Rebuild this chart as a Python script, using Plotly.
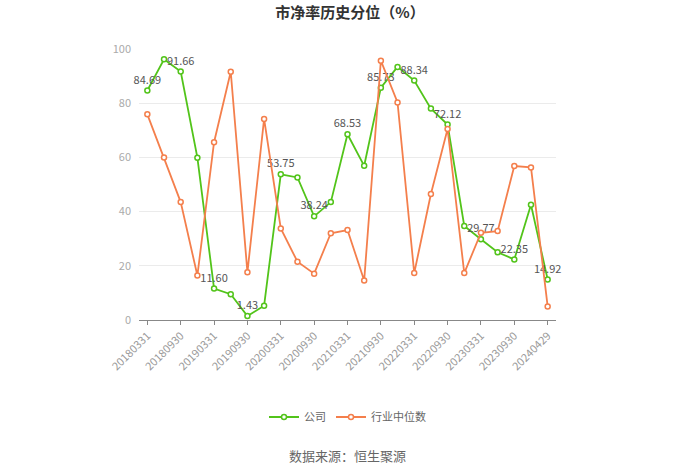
import plotly.graph_objects as go

dates = ["20180331", "20180630", "20180930", "20181231", "20190331", "20190630",
         "20190930", "20191231", "20200331", "20200630", "20200930", "20201231",
         "20210331", "20210630", "20210930", "20211231", "20220331", "20220630",
         "20220930", "20221231", "20230331", "20230630", "20230930", "20231231",
         "20240429"]
company = [84.69, 96.2, 91.66, 59.9, 11.60, 9.5, 1.43, 5.3, 53.75, 52.6,
           38.24, 43.5, 68.53, 56.9, 85.73, 93.4, 88.34, 78.0, 72.12, 34.7,
           29.77, 25.0, 22.35, 42.5, 14.92]
industry = [75.9, 60.0, 43.5, 16.4, 65.6, 91.6, 17.6, 74.2, 33.8, 21.5,
            17.1, 32.0, 33.2, 14.6, 95.7, 80.3, 17.3, 46.5, 70.5, 17.3,
            32.2, 32.8, 56.8, 56.3, 5.0]
tick_labels = dates[::2]

FONT = "Noto Sans CJK SC, Microsoft YaHei, sans-serif"
green = "#52C41A"
orange = "#F47F4C"

labels = [f"{v:.2f}" if i % 2 == 0 else "" for i, v in enumerate(company)]

fig = go.Figure()
fig.add_trace(go.Scatter(
    x=dates, y=company, name="公司", mode="lines+markers+text",
    line=dict(color=green, width=1.8),
    marker=dict(symbol="circle", size=5, color="white", line=dict(color=green, width=1.5)),
    text=labels, textposition="top center",
    textfont=dict(color="#555555", size=11, family=FONT),
    cliponaxis=False,
))
fig.add_trace(go.Scatter(
    x=dates, y=industry, name="行业中位数", mode="lines+markers",
    line=dict(color=orange, width=1.8),
    marker=dict(symbol="circle", size=5, color="white", line=dict(color=orange, width=1.5)),
    cliponaxis=False,
))

fig.update_layout(
    width=700, height=473,
    margin=dict(l=139, r=144, t=49, b=153),
    paper_bgcolor="white", plot_bgcolor="white",
    font=dict(family=FONT, color="#999999"),
    title=dict(text="<b>市净率历史分位（%）</b>", x=0.5, xanchor="center",
               y=1 - 13 / 473, yanchor="middle",
               font=dict(size=15, color="#333333", family=FONT)),
    xaxis=dict(
        type="category", range=[-0.5, 24.5],
        tickmode="array", tickvals=tick_labels, ticktext=tick_labels,
        tickangle=-45, tickfont=dict(size=11, color="#999999"),
        showline=True, linecolor="#888888", linewidth=1,
        ticks="outside", ticklen=4, tickcolor="#888888",
        showgrid=False, zeroline=False,
    ),
    yaxis=dict(
        range=[0, 100], tickvals=[0, 20, 40, 60, 80, 100],
        tickfont=dict(size=11, color="#aaaaaa"),
        showgrid=True, gridcolor="#EBEBEB", gridwidth=1,
        zeroline=False, showline=False, ticks="",
        ticklabelstandoff=7,
    ),
    legend=dict(orientation="h", x=0.5, xanchor="center", y=-0.358, yanchor="middle",
                font=dict(size=11, color="#666666", family=FONT),
                itemwidth=30),
    showlegend=True,
    annotations=[dict(text="数据来源：恒生聚源", x=0.5, xref="paper", y=-0.5,
                      yref="paper", xanchor="center", yanchor="middle", showarrow=False,
                      font=dict(size=13, color="#666666", family=FONT))],
)

fig.write_html("out.html")
